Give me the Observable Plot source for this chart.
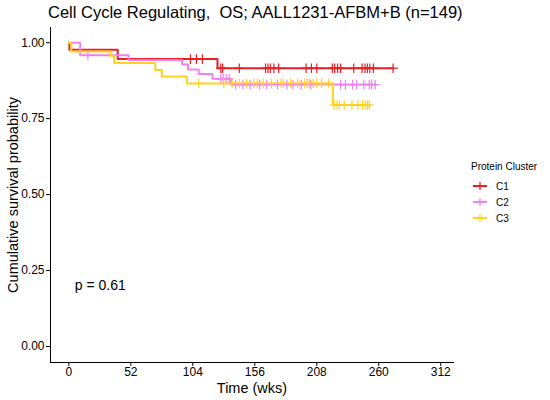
<!DOCTYPE html>
<html><head><meta charset="utf-8">
<script src="https://cdn.jsdelivr.net/npm/d3@7"></script>
<script src="https://cdn.jsdelivr.net/npm/@observablehq/plot@0.6"></script>
<style>
body{margin:0;background:#fff;font-family:"Liberation Sans",Arial,sans-serif;}
#wrap{position:relative;width:550px;height:400px;overflow:hidden;background:#fff;}
#title{position:absolute;left:48px;top:3px;font-size:16.5px;color:#000;white-space:pre;}
#chart{position:absolute;left:0;top:22px;}
#legend{position:absolute;left:471px;top:161px;font-size:10px;color:#000;}
#legend .item{display:flex;align-items:center;height:16px;}
#legend .item svg{margin-left:1px;margin-right:8px;}
</style></head><body>
<div id="wrap"><div id="title"></div><div id="chart"></div><div id="legend"></div></div>
<script>
const title = "Cell Cycle Regulating,  OS; AALL1231-AFBM+B (n=149)";
const legendTitle = "Protein Cluster";
const groups = ["C1", "C2", "C3"];
const colors = ["#EE1C25", "#EE82EE", "#FFD21F"];
const pLabel = "p = 0.61";
const xLabel = "Time (wks)";
const yLabel = "Cumulative survival probability";
const xTicks = [0, 52, 104, 156, 208, 260, 312];
const yTicks = [0, 0.25, 0.5, 0.75, 1];

// C1 step function and censor times
const c1Time = [0, 0.5, 41, 124.7, 272];
const c1Surv = [1, 0.977, 0.946, 0.916, 0.916];
const c1Censor = [102, 107, 112, 127.5, 129, 143, 165, 167, 169, 172, 176, 199, 203.5, 208, 221, 223, 225.5, 228, 239, 246, 248.5, 250.5, 252.5, 255.5, 272];

// C2
const c2Time = [0, 9.5, 50, 95, 100, 109, 120.5, 136, 257];
const c2Surv = [1, 0.959, 0.943, 0.928, 0.912, 0.897, 0.881, 0.862, 0.862];
const c2Censor = [16, 127.5, 129.5, 132, 134.5, 140, 146, 152, 160, 166, 175, 183, 188, 195, 203, 228, 232, 238, 241.5, 247.5, 252, 254, 257];

// C3
const c3Time = [0, 2, 35, 38, 72.5, 78, 99, 221.5, 252];
const c3Surv = [1, 0.971, 0.957, 0.933, 0.910, 0.889, 0.866, 0.795, 0.795];
const c3Censor = [109, 130, 137, 143, 149, 155, 158, 163, 170, 178, 180, 186, 192, 198, 200, 202, 205, 208, 212, 218, 222.5, 225, 227, 231, 237.5, 242.5, 246.5, 248.5, 250.5, 252];

const series = [
  {g: "C1", t: c1Time, s: c1Surv, c: c1Censor},
  {g: "C2", t: c2Time, s: c2Surv, c: c2Censor},
  {g: "C3", t: c3Time, s: c3Surv, c: c3Censor}
];
const steps = [], censors = [];
for (const S of series) {
  S.t.forEach((t, i) => steps.push({group: S.g, time: t, surv: S.s[i]}));
  for (const ct of S.c) {
    let v = S.s[0];
    S.t.forEach((t, i) => { if (t <= ct) v = S.s[i]; });
    censors.push({group: S.g, time: ct, surv: v});
  }
}

document.getElementById("title").textContent = title;

const chart = Plot.plot({
  width: 460,
  height: 378,
  marginLeft: 50,
  marginRight: 7,
  marginTop: 5,
  marginBottom: 38,
  style: {fontFamily: "Liberation Sans, Arial, sans-serif", color: "#000", background: "#fff"},
  x: {domain: [-15.4, 322.7], ticks: xTicks},
  y: {domain: [-0.0526, 1.05], ticks: yTicks},
  color: {domain: groups, range: colors},
  marks: [
    Plot.axisX(xTicks, {tickSize: 4, tickPadding: 1, fontSize: 12, label: null}),
    Plot.axisY(yTicks, {tickSize: 4, tickPadding: 2, fontSize: 12, label: null, tickFormat: d3.format(".2f")}),
    Plot.frame({anchor: "left", stroke: "#000"}),
    Plot.frame({anchor: "bottom", stroke: "#000"}),
    Plot.line(steps, {x: "time", y: "surv", z: "group", stroke: "group", curve: "step-after", strokeWidth: 2}),
    Plot.dot(censors, {x: "time", y: "surv", stroke: "group", symbol: "plus", r: 3.2, strokeWidth: 1.2}),
    Plot.text([pLabel], {x: 5, y: 0.2, text: d => d, textAnchor: "start", fontSize: 14}),
    Plot.text([xLabel], {frameAnchor: "bottom", dy: 20, lineAnchor: "top", textAnchor: "middle", text: d => d, fontSize: 14.5}),
    Plot.text([yLabel], {frameAnchor: "left", dx: -37, rotate: -90, textAnchor: "middle", lineAnchor: "middle", text: d => d, fontSize: 14.5})
  ]
});
document.getElementById("chart").appendChild(chart);

const leg = document.getElementById("legend");
const lt = document.createElement("div");
lt.textContent = legendTitle;
lt.style.marginBottom = "6px";
leg.appendChild(lt);
groups.forEach((g, i) => {
  const it = document.createElement("div");
  it.className = "item";
  it.innerHTML = `<svg width="16" height="12"><line x1="1" x2="15" y1="6" y2="6" stroke="${colors[i]}" stroke-width="2"/><line x1="8" x2="8" y1="2" y2="10" stroke="${colors[i]}" stroke-width="1.3"/></svg><span>${g}</span>`;
  leg.appendChild(it);
});
</script>
</body></html>
